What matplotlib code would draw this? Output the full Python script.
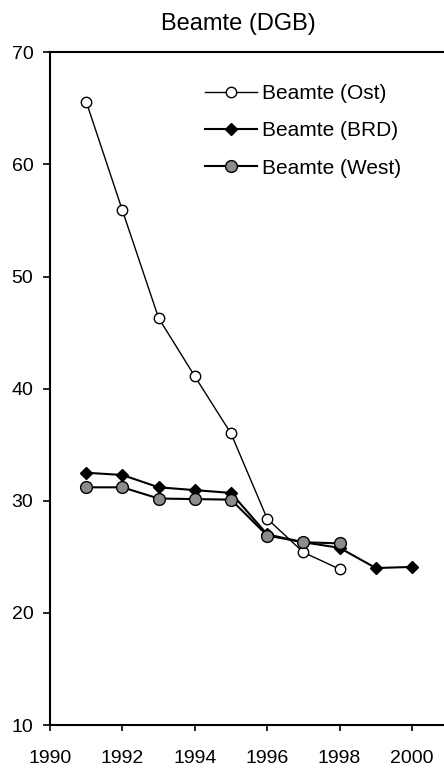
import matplotlib.pyplot as plt

plt.rcParams['font.family'] = ['Liberation Sans', 'DejaVu Sans']

# Data
years_ost = [1991, 1992, 1993, 1994, 1995, 1996, 1997, 1998]
ost = [65.6, 55.9, 46.3, 41.1, 36.0, 28.4, 25.4, 23.9]

years_brd = [1991, 1992, 1993, 1994, 1995, 1996, 1997, 1998, 1999, 2000]
brd = [32.5, 32.3, 31.2, 30.95, 30.7, 27.0, 26.3, 25.8, 24.0, 24.1]

years_west = [1991, 1992, 1993, 1994, 1995, 1996, 1997, 1998]
west = [31.2, 31.2, 30.2, 30.15, 30.1, 26.9, 26.3, 26.2]

labels = ['Beamte (Ost)', 'Beamte (BRD)', 'Beamte (West)']
x_ticks = [1990, 1992, 1994, 1996, 1998, 2000]
y_ticks = [10, 20, 30, 40, 50, 60, 70]

fig = plt.figure(figsize=(4.44, 7.69), dpi=100)
ax = fig.add_axes([50 / 444, 1 - 725 / 769, 1 - 50 / 444, (725 - 52.3) / 769])

ax.plot(years_ost, ost, color='black', lw=1.0, marker='o', ms=7.5,
        mfc='white', mec='black', mew=1.0, label=labels[0], zorder=2)
ax.plot(years_brd, brd, color='black', lw=1.5, marker='D', ms=6.5,
        mfc='black', mec='black', mew=1.0, label=labels[1], zorder=3)
ax.plot(years_west, west, color='black', lw=1.5, marker='o', ms=8.5,
        mfc='#8c8c8c', mec='black', mew=1.0, label=labels[2], zorder=4)

ax.set_xlim(1990, 1990 + 394 / 36.2)
ax.set_ylim(10, 70)
ax.set_xticks(x_ticks)
ax.set_yticks(y_ticks)
ax.tick_params(axis='both', direction='out', labelsize=14, width=1.2)
ax.tick_params(axis='y', length=5, pad=7)
ax.tick_params(axis='x', length=4, pad=14)

ax.spines['right'].set_visible(False)
for s in ['left', 'bottom', 'top']:
    ax.spines[s].set_linewidth(1.5)

fig.text(238 / 444, 1 - 24 / 769, 'Beamte (DGB)', ha='center', va='center', fontsize=17)

ax.legend(loc='upper left', bbox_to_anchor=(205 / 444, 1 - 84 / 769),
          bbox_transform=fig.transFigure, frameon=False, fontsize=15,
          handlelength=2.5, handletextpad=0.25, labelspacing=0.88,
          borderpad=0, borderaxespad=0)

fig.savefig('out.png', dpi=100)
